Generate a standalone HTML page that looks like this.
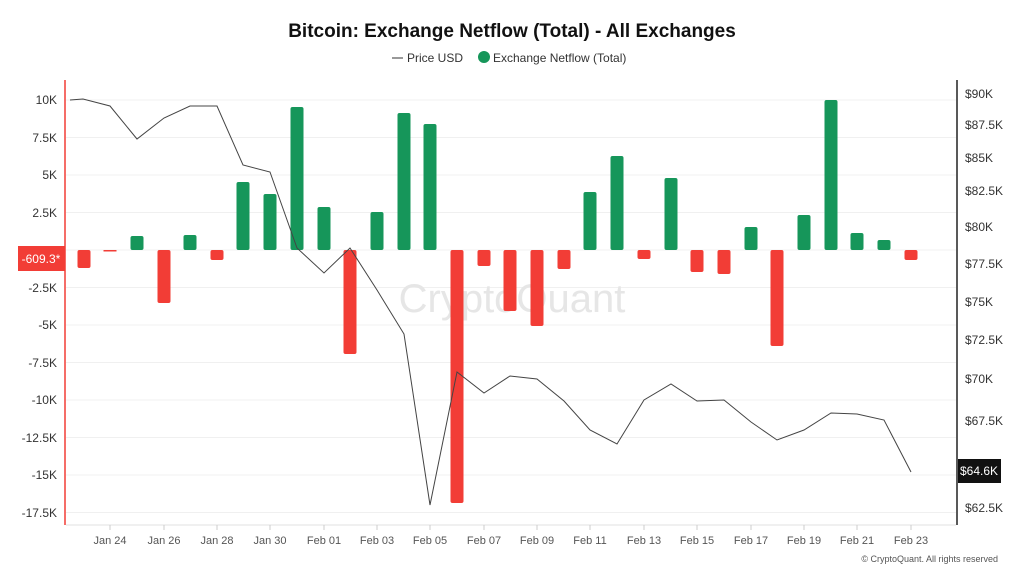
<!DOCTYPE html>
<html><head><meta charset="utf-8"><style>
body{margin:0;background:#fff;width:1024px;height:576px;overflow:hidden}
</style></head><body>
<svg width="1024" height="576" xmlns="http://www.w3.org/2000/svg" font-family="Liberation Sans, sans-serif">
<text x="512" y="37" text-anchor="middle" font-size="19" font-weight="bold" fill="#111">Bitcoin: Exchange Netflow (Total) - All Exchanges</text>
<line x1="392" y1="58" x2="403" y2="58" stroke="#555" stroke-width="1.2"/>
<text x="407" y="62" font-size="12" fill="#333">Price USD</text>
<circle cx="484" cy="57" r="6" fill="#16965a"/>
<text x="493" y="62" font-size="12" fill="#333">Exchange Netflow (Total)</text>

<g stroke="#f0f0f0" stroke-width="1">
<line x1="66" y1="100" x2="956" y2="100"/>
<line x1="66" y1="137.5" x2="956" y2="137.5"/>
<line x1="66" y1="175" x2="956" y2="175"/>
<line x1="66" y1="212.5" x2="956" y2="212.5"/>
<line x1="66" y1="250" x2="956" y2="250"/>
<line x1="66" y1="287.5" x2="956" y2="287.5"/>
<line x1="66" y1="325" x2="956" y2="325"/>
<line x1="66" y1="362.5" x2="956" y2="362.5"/>
<line x1="66" y1="400" x2="956" y2="400"/>
<line x1="66" y1="437.5" x2="956" y2="437.5"/>
<line x1="66" y1="475" x2="956" y2="475"/>
<line x1="66" y1="512.5" x2="956" y2="512.5"/>
</g>

<text x="512" y="312" text-anchor="middle" font-size="40" fill="#e6e6e6">CryptoQuant</text>

<g font-size="12" fill="#333" text-anchor="end">
<text x="57" y="104">10K</text>
<text x="57" y="142">7.5K</text>
<text x="57" y="179">5K</text>
<text x="57" y="217">2.5K</text>
<text x="57" y="292">-2.5K</text>
<text x="57" y="329">-5K</text>
<text x="57" y="367">-7.5K</text>
<text x="57" y="404">-10K</text>
<text x="57" y="442">-12.5K</text>
<text x="57" y="479">-15K</text>
<text x="57" y="517">-17.5K</text>
</g>

<g font-size="12" fill="#333">
<text x="965" y="98">$90K</text>
<text x="965" y="129">$87.5K</text>
<text x="965" y="162">$85K</text>
<text x="965" y="195">$82.5K</text>
<text x="965" y="231">$80K</text>
<text x="965" y="268">$77.5K</text>
<text x="965" y="306">$75K</text>
<text x="965" y="344">$72.5K</text>
<text x="965" y="383">$70K</text>
<text x="965" y="425">$67.5K</text>
<text x="965" y="512">$62.5K</text>
</g>

<g fill="#16965a">
<rect x="130.5" y="236" width="13" height="14" rx="2"/>
<rect x="183.5" y="235" width="13" height="15" rx="2"/>
<rect x="236.5" y="182" width="13" height="68" rx="2"/>
<rect x="263.5" y="194" width="13" height="56" rx="2"/>
<rect x="290.5" y="107" width="13" height="143" rx="2"/>
<rect x="317.5" y="207" width="13" height="43" rx="2"/>
<rect x="370.5" y="212" width="13" height="38" rx="2"/>
<rect x="397.5" y="113" width="13" height="137" rx="2"/>
<rect x="423.5" y="124" width="13" height="126" rx="2"/>
<rect x="583.5" y="192" width="13" height="58" rx="2"/>
<rect x="610.5" y="156" width="13" height="94" rx="2"/>
<rect x="664.5" y="178" width="13" height="72" rx="2"/>
<rect x="744.5" y="227" width="13" height="23" rx="2"/>
<rect x="797.5" y="215" width="13" height="35" rx="2"/>
<rect x="824.5" y="100" width="13" height="150" rx="2"/>
<rect x="850.5" y="233" width="13" height="17" rx="2"/>
<rect x="877.5" y="240" width="13" height="10" rx="2"/>
</g>
<g fill="#f23d36">
<rect x="77.5" y="250" width="13" height="18" rx="2"/>
<rect x="103.5" y="250" width="13" height="1.5"/>
<rect x="157.5" y="250" width="13" height="53" rx="2"/>
<rect x="210.5" y="250" width="13" height="10" rx="2"/>
<rect x="343.5" y="250" width="13" height="104" rx="2"/>
<rect x="450.5" y="250" width="13" height="253" rx="2"/>
<rect x="477.5" y="250" width="13" height="16" rx="2"/>
<rect x="503.5" y="250" width="13" height="61" rx="2"/>
<rect x="530.5" y="250" width="13" height="76" rx="2"/>
<rect x="557.5" y="250" width="13" height="19" rx="2"/>
<rect x="637.5" y="250" width="13" height="9" rx="2"/>
<rect x="690.5" y="250" width="13" height="22" rx="2"/>
<rect x="717.5" y="250" width="13" height="24" rx="2"/>
<rect x="770.5" y="250" width="13" height="96" rx="2"/>
<rect x="904.5" y="250" width="13" height="10" rx="2"/>
</g>

<polyline fill="none" stroke="#444" stroke-width="1" points="70,100 83,99 110,106 137,139 164,118 190,106 217,106 243,165 270,172 297,248 324,273 350,248 377,290 404,334 430,505 457,372 484,393 510,376 537,379 564,401 590,430 617,444 644,400 671,384 697,401 724,400 751,422 777,440 804,430 831,413 857,414 884,420 911,472"/>

<line x1="65" y1="80" x2="65" y2="525" stroke="#f23d36" stroke-width="1.5"/>
<line x1="957" y1="80" x2="957" y2="525" stroke="#222" stroke-width="1.5"/>
<line x1="66" y1="525" x2="956" y2="525" stroke="#e0e0e0" stroke-width="1"/>

<rect x="18" y="246" width="47" height="25" fill="#f23d36"/>
<text x="41" y="263" text-anchor="middle" font-size="12" fill="#fff">-609.3*</text>
<rect x="958" y="459" width="43" height="24" fill="#111"/>
<text x="979" y="475" text-anchor="middle" font-size="12" fill="#fff">$64.6K</text>

<g stroke="#ccc" stroke-width="1">
<line x1="110" y1="525" x2="110" y2="530"/><line x1="164" y1="525" x2="164" y2="530"/><line x1="217" y1="525" x2="217" y2="530"/><line x1="270" y1="525" x2="270" y2="530"/><line x1="324" y1="525" x2="324" y2="530"/><line x1="377" y1="525" x2="377" y2="530"/><line x1="430" y1="525" x2="430" y2="530"/><line x1="484" y1="525" x2="484" y2="530"/><line x1="537" y1="525" x2="537" y2="530"/><line x1="590" y1="525" x2="590" y2="530"/><line x1="644" y1="525" x2="644" y2="530"/><line x1="697" y1="525" x2="697" y2="530"/><line x1="751" y1="525" x2="751" y2="530"/><line x1="804" y1="525" x2="804" y2="530"/><line x1="857" y1="525" x2="857" y2="530"/><line x1="911" y1="525" x2="911" y2="530"/>
</g>
<g font-size="11" fill="#555" text-anchor="middle">
<text x="110" y="544">Jan 24</text><text x="164" y="544">Jan 26</text><text x="217" y="544">Jan 28</text><text x="270" y="544">Jan 30</text><text x="324" y="544">Feb 01</text><text x="377" y="544">Feb 03</text><text x="430" y="544">Feb 05</text><text x="484" y="544">Feb 07</text><text x="537" y="544">Feb 09</text><text x="590" y="544">Feb 11</text><text x="644" y="544">Feb 13</text><text x="697" y="544">Feb 15</text><text x="751" y="544">Feb 17</text><text x="804" y="544">Feb 19</text><text x="857" y="544">Feb 21</text><text x="911" y="544">Feb 23</text>
</g>
<text x="998" y="562" text-anchor="end" font-size="9" fill="#555">© CryptoQuant. All rights reserved</text>
</svg>
</body></html>
